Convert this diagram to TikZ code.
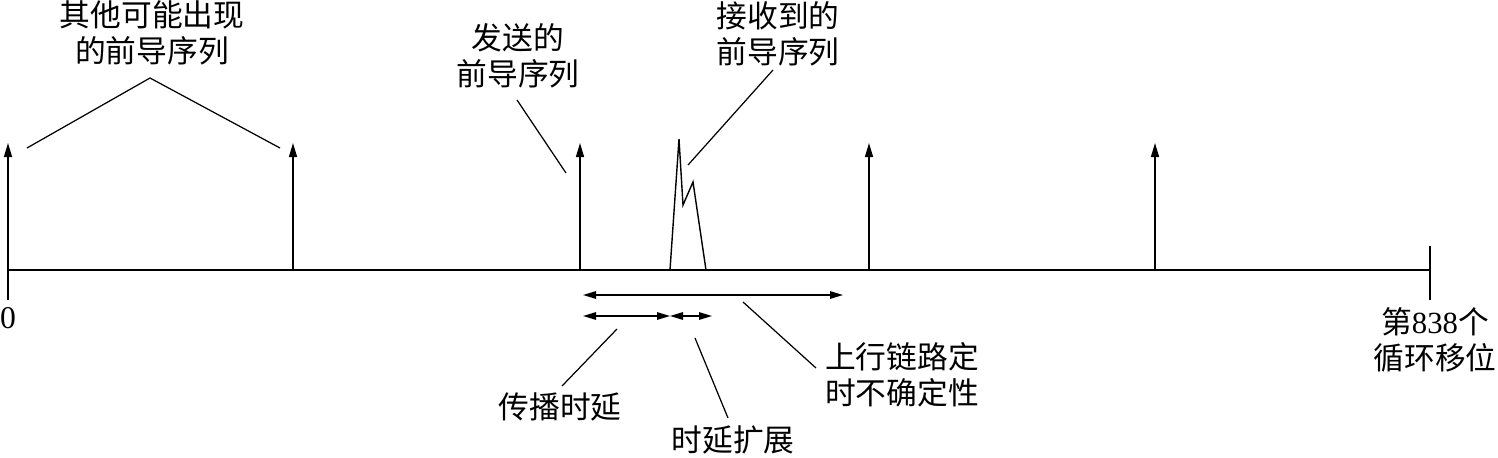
\documentclass[tikz,border=0pt]{standalone}
\usepackage{fontspec}
\setmainfont{Liberation Serif}
\newfontfamily\cjk{Noto Sans CJK SC}
\usetikzlibrary{arrows.meta}
\begin{document}
\begin{tikzpicture}[x=0.02cm,y=-0.02cm,
  line width=0.8pt,
  lbl/.style={inner sep=0pt,align=center,font=\fontsize{17.5pt}{20.5pt}\selectfont\cjk},
  num/.style={inner sep=0pt,align=center,font=\fontsize{18pt}{20.5pt}\selectfont},
  imp/.style={-{Triangle[length=0.28cm,width=0.16cm]}},
  dim/.style={{Triangle[length=0.26cm,width=0.15cm]}-{Triangle[length=0.26cm,width=0.15cm]}},
  ptr/.style={line width=0.7pt}]
\useasboundingbox (0,0) rectangle (1498,457);
% axis
\coordinate (a0) at (8,270);
\coordinate (a1) at (1430,270);
\draw (a0) -- (a1);
\coordinate (e0) at (8,300);
\coordinate (r0) at (1430,246);
\coordinate (r1) at (1430,300);
\draw (r0) -- (r1);
% impulses
\coordinate (t0) at (8,143);
\draw[imp] (e0) -- (t0);
\foreach \i/\x in {1/293,2/580,3/869,4/1155}{
  \coordinate (b\i) at (\x,270);
  \coordinate (t\i) at (\x,143);
  \draw[imp] (b\i) -- (t\i);
}
% received peak
\coordinate (p0) at (670,270);
\coordinate (p1) at (679,139);
\coordinate (p2) at (683,205);
\coordinate (p3) at (693,182);
\coordinate (p4) at (706,270);
\draw[line join=miter] (p0) -- (p1) -- (p2) -- (p3) -- (p4);
% labels top
\node[lbl] (other) at (152,33) {其他可能出现\\的前导序列};
\coordinate (o1) at (27,148);
\coordinate (o2) at (150,78);
\coordinate (o3) at (280,148);
\draw[ptr] (o1) -- (o2) -- (o3);
\node[lbl] (sent) at (518,56) {发送的\\前导序列};
\coordinate (s1) at (517,100);
\coordinate (s2) at (566,173);
\draw[ptr] (s1) -- (s2);
\node[lbl] (recv) at (778,34) {接收到的\\前导序列};
\coordinate (q1) at (773,70);
\coordinate (q2) at (688,165);
\draw[ptr] (q1) -- (q2);
% dimension arrows
\coordinate (d1) at (583,295);
\coordinate (d2) at (843,295);
\draw[dim] (d1) -- (d2);
\coordinate (c1) at (583,316);
\coordinate (c2) at (670,316);
\coordinate (c3) at (712,316);
\draw[dim] (c1) -- (c2);
\draw[dim] (c2) -- (c3);
% bottom labels
\node[lbl] (prop) at (560,407) {传播时延};
\coordinate (u1) at (617,329);
\coordinate (u2) at (562,386);
\draw[ptr] (u1) -- (u2);
\node[lbl] (spread) at (733,440) {时延扩展};
\coordinate (v1) at (695,338);
\coordinate (v2) at (728,418);
\draw[ptr] (v1) -- (v2);
\node[lbl] (unc) at (902,375) {上行链路定\\时不确定性};
\coordinate (w1) at (743,302);
\coordinate (w2) at (816,368);
\draw[ptr] (w1) -- (w2);
% end labels
\node[num] (zero) at (8,318) {0};
\node[lbl] (end) at (1435,340) {第{\fontspec{Liberation Serif}838}个\\循环移位};
\end{tikzpicture}
\end{document}
